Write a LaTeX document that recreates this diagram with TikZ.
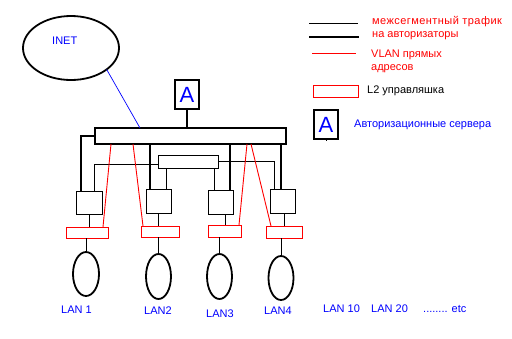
\documentclass[tikz,border=0pt]{standalone}
\usepackage{fontspec}
\setmainfont{Liberation Sans}
\usetikzlibrary{shapes.geometric}
\begin{document}
\begin{tikzpicture}[x=1pt,y=-1pt,
  box/.style={draw,rectangle,inner sep=0pt,outer sep=0pt},
  heavy/.style={line width=2.6pt},
  thinl/.style={line width=0.9pt},
  vlan/.style={draw=red,line width=0.9pt},
  lan/.style={draw,ellipse,line width=1.8pt,inner sep=0pt,outer sep=0pt},
  txt/.style={font=\fontsize{11}{13}\selectfont,inner sep=0pt,anchor=west},
  redt/.style={txt,text=red},
  bluet/.style={txt,text=blue},
  abox/.style={box,heavy,minimum width=24pt,minimum height=29pt},
  aglyph/.style={text=blue,font=\fontsize{22}{22}\selectfont,inner sep=0pt}
]
\useasboundingbox (0,0) rectangle (512,338);

% INET
\node[lan,minimum width=96pt,minimum height=64pt] (inet) at (71,48) {};
\node[bluet] (inettxt) at (52,41) {INET};

% top A box
\node[abox] (topa) at (187,94.5) {};
\node[aglyph] (topaglyph) at (187,94.5) {A};

% bus
\node[box,heavy,minimum width=191pt,minimum height=16pt] (bus) at (190.5,136) {};

% middle box
\node[box,thinl,minimum width=60pt,minimum height=13pt] (mid) at (188,161.5) {};

% switches
\node[box,thinl,minimum width=26pt,minimum height=23pt] (s1) at (89,202.5) {};
\node[box,thinl,minimum width=25pt,minimum height=24pt] (s2) at (158.5,201) {};
\node[box,thinl,minimum width=25pt,minimum height=24pt] (s3) at (220.5,202) {};
\node[box,thinl,minimum width=25pt,minimum height=24pt] (s4) at (282.5,201) {};

% L2 red boxes
\node[box,draw=red,line width=0.9pt,minimum width=42pt,minimum height=11pt] (r1) at (87,232.5) {};
\node[box,draw=red,line width=0.9pt,minimum width=38pt,minimum height=11pt] (r2) at (160,231.5) {};
\node[box,draw=red,line width=0.9pt,minimum width=33pt,minimum height=12pt] (r3) at (224.5,231) {};
\node[box,draw=red,line width=0.9pt,minimum width=36pt,minimum height=12pt] (r4) at (284,232) {};

% LANs
\node[lan,minimum width=26pt,minimum height=44pt] (l1) at (86,274) {};
\node[lan,minimum width=25pt,minimum height=45pt] (l2) at (158.5,276.5) {};
\node[lan,minimum width=25pt,minimum height=45pt] (l3) at (219.5,276.5) {};
\node[lan,minimum width=25pt,minimum height=44pt] (l4) at (281,278) {};

% connectors
\draw[blue,line width=0.7pt] (inet.-31) -- ([xshift=45pt]bus.north west);
\draw[heavy] (topa.south) -- (topa.south |- bus.north);
\draw[heavy] (bus.west) -| ([xshift=-8pt]s1.north);
\draw[heavy] ([xshift=-8.5pt]s2.north) -- ([xshift=-8.5pt]s2.north |- bus.south);
\draw[heavy] ([xshift=9.5pt]s3.north) -- ([xshift=9.5pt]s3.north |- bus.south);
\draw[heavy] ([xshift=-1.5pt]s4.north) -- ([xshift=-1.5pt]s4.north |- bus.south);

\draw[thinl] ([yshift=-2.5pt]mid.west) -| ([xshift=5pt]s1.north);
\draw[thinl] ([xshift=7.5pt]s2.north) -- ([xshift=7.5pt]s2.north |- mid.south);
\draw[thinl] ([xshift=-6.5pt]s3.north) -- ([xshift=-6.5pt]s3.north |- mid.south);
\draw[thinl] (mid.east) -| ([xshift=-8.5pt]s4.north);

\draw[thinl] (s1.south) -- (s1.south |- r1.north);
\draw[thinl] (s2.south) -- (s2.south |- r2.north);
\draw[thinl] ([xshift=5pt]s3.south) -- ([xshift=5pt]s3.south |- r3.north);
\draw[thinl] ([xshift=1.5pt]s4.south) -- ([xshift=1.5pt]s4.south |- r4.north);

\draw[vlan] ([xshift=16pt]bus.south west) -- ([xshift=-5pt]r1.north east);
\draw[vlan] ([xshift=38pt]bus.south west) -- ([xshift=2pt]r2.north west);
\draw[vlan] ([xshift=152pt]bus.south west) -- ([xshift=-2pt]r3.north east);
\draw[vlan] ([xshift=156pt]bus.south west) -- ([xshift=5pt]r4.north west);

\draw[thinl] (l1.north |- r1.south) -- (l1.north);
\draw[thinl] (l2.north |- r2.south) -- (l2.north);
\draw[thinl] (l3.north |- r3.south) -- (l3.north);
\draw[thinl] (l4.north |- r4.south) -- (l4.north);

% LAN labels
\node[bluet] (lan1) at (61,310) {LAN 1};
\node[bluet] (lan2) at (144,311) {LAN2};
\node[bluet] (lan3) at (206,314) {LAN3};
\node[bluet] (lan4) at (264,311) {LAN4};
\node[bluet] (lan10) at (323,309) {LAN 10};
\node[bluet] (lan20) at (371,309) {LAN 20};
\node[bluet] (etc) at (423,309) {........ etc};

% legend
\coordinate (lg1a) at (309,23); \coordinate (lg1b) at (358,23);
\coordinate (lg2a) at (309,37); \coordinate (lg2b) at (359,37);
\coordinate (lg3a) at (312,53); \coordinate (lg3b) at (356,53);
\draw[thinl] (lg1a) -- (lg1b);
\draw[heavy] (lg2a) -- (lg2b);
\draw[vlan] (lg3a) -- (lg3b);
\node[redt] (t1) at (372,22) {\addfontfeature{LetterSpace=4}межсегментный трафик};
\node[redt] (t2) at (372,36) {на авторизаторы};
\node[redt] (t3) at (371,55) {VLAN прямых};
\node[redt] (t4) at (371,69) {адресов};
\node[box,draw=red,line width=0.9pt,minimum width=45pt,minimum height=12pt] (lgr) at (335.5,91) {};
\node[txt] (t5) at (367,91) {L2 управляшка};
\node[abox] (lga) at (326,124.5) {};
\node[aglyph] (lgaglyph) at (326,124.5) {A};
\draw[thinl] (lga.south) -- ([yshift=-1.5pt]lga.south);
\node[bluet] (t6) at (354,125) {Авторизационные сервера};
\end{tikzpicture}
\end{document}
